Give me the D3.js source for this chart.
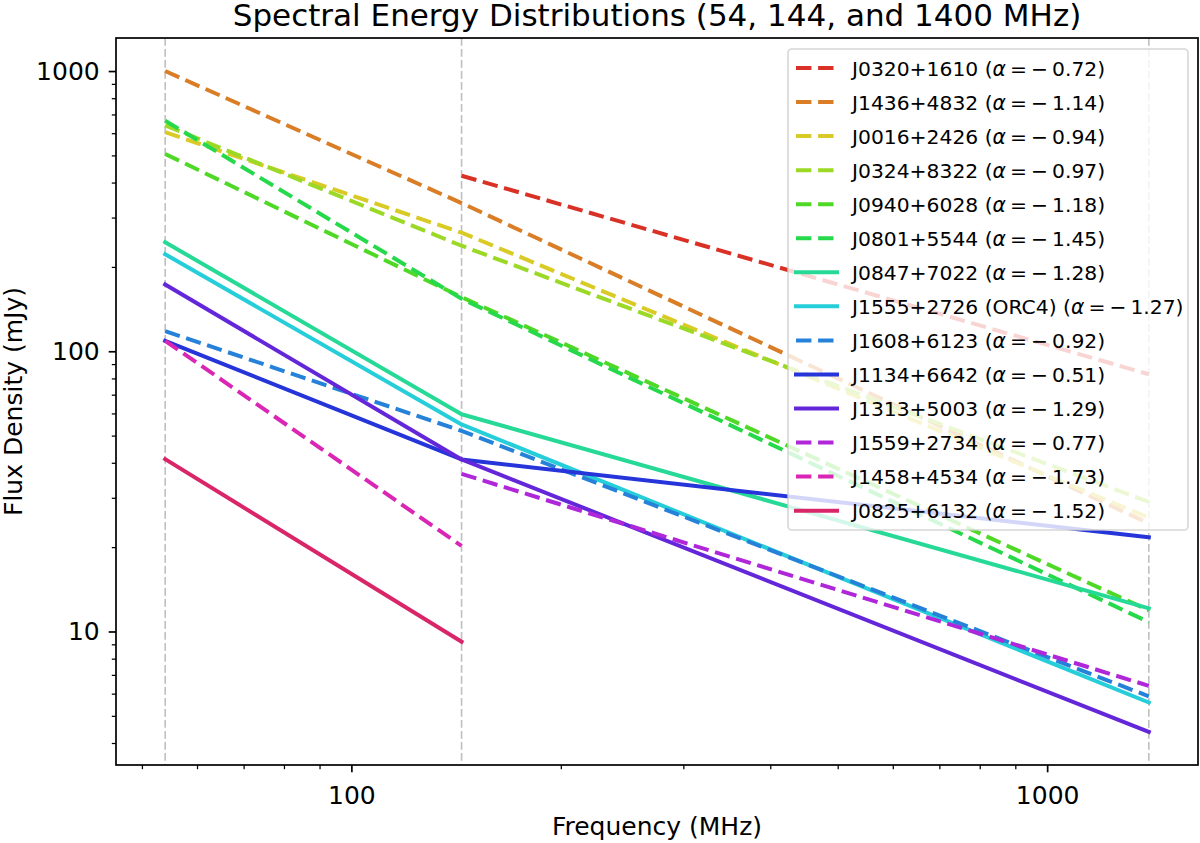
<!DOCTYPE html>
<html>
<head>
<meta charset="utf-8">
<script src="https://cdn.jsdelivr.net/npm/d3@7"></script>
<style>
body { margin: 0; background: #fff; }
svg { font-family: "DejaVu Sans", sans-serif; }
</style>
</head>
<body>
<div class="holderSed"></div>
<script>
var sources = ['J0320+1610', 'J1436+4832', 'J0016+2426', 'J0324+8322', 'J0940+6028', 'J0801+5544',
  'J0847+7022', 'J1555+2726 (ORC4)', 'J1608+6123', 'J1134+6642', 'J1313+5003', 'J1559+2734',
  'J1458+4534', 'J0825+6132']
var alphas = [-0.72, -1.14, -0.94, -0.97, -1.18, -1.45, -1.28, -1.27, -0.92, -0.51, -1.29, -0.77, -1.73, -1.52]

var freqs = [54, 144, 1400]
// flux density (mJy) per source, null = not detected at that band
var flux54 = [null, 1000, 605, 640, 506, 665, 245, 222, 118, 109, 173, null, 109, 41.2]
var flux144 = [423, 338, 265, 238, 156, 154, 59.6, 54.8, 52, 41.1, 41.1, 36.5, 20.2, 9.2]
var flux1400 = [82.8, 24.3, 25.5, 29, 11.9, 10.8, 12.1, 5.58, 5.87, 21.7, 4.38, 6.4, null, null]

var xMajor = [100, 1000]
var xMinor = [50, 60, 70, 80, 90, 200, 300, 400, 500, 600, 700, 800, 900]
var yMajor = [10, 100, 1000]
var yMinor = [4, 5, 6, 7, 8, 9, 20, 30, 40, 50, 60, 70, 80, 90, 200, 300, 400, 500, 600, 700, 800, 900]

var dashed = [true, true, true, true, true, true, false, false, true, false, false, true, true, false]
var colors = d3.range(sources.length).map(function(i) {
  return d3.hsl(3.6 + i * 360 / sources.length, 0.7, 0.5).formatHex()
})

var width = 1200,
    height = 843,
    plotLeft = 116,
    plotRight = 1198,
    plotTop = 38,
    plotBottom = 765

var bands = [flux54, flux144, flux1400]
var series = sources.map(function(name, i) {
  return freqs.map(function(f, j) {
    return { f: f, v: bands[j][i] }
  }).filter(function(d) { return d.v != null })
})

function logPad(ext) {
  var a = Math.log10(ext[0]), b = Math.log10(ext[1]), p = (b - a) * 0.05
  return [Math.pow(10, a - p), Math.pow(10, b + p)]
}

var allValues = d3.merge(bands).filter(function(v) { return v != null })

var xScale = d3.scaleLog()
  .domain(logPad(d3.extent(freqs)))
  .range([plotLeft, plotRight])

var yScale = d3.scaleLog()
  .domain(logPad(d3.extent(allValues)))
  .range([plotBottom, plotTop])

var chart = d3.select('.holderSed')
  .append('svg')
  .attr('width', width)
  .attr('height', height)

// band markers
chart.selectAll('.band')
  .data(freqs)
  .enter()
  .append('line')
  .attr('class', 'band')
  .attr('x1', function(d) { return xScale(d) })
  .attr('x2', function(d) { return xScale(d) })
  .attr('y1', plotTop)
  .attr('y2', plotBottom)
  .attr('stroke', '#808080')
  .attr('stroke-opacity', 0.5)
  .attr('stroke-width', 1.6)
  .attr('stroke-dasharray', '7.7,3.3')

var line = d3.line()
  .x(function(d) { return xScale(d.f) })
  .y(function(d) { return yScale(d.v) })

chart.selectAll('.sed')
  .data(series)
  .enter()
  .append('path')
  .attr('class', 'sed')
  .attr('d', line)
  .attr('fill', 'none')
  .attr('stroke', function(d, i) { return colors[i] })
  .attr('stroke-width', 4)
  .attr('stroke-linejoin', 'round')
  .attr('stroke-linecap', function(d, i) { return dashed[i] ? 'butt' : 'square' })
  .attr('stroke-dasharray', function(d, i) { return dashed[i] ? '15.4,6.7' : null })

// axes
function styleAxis(g, w) {
  g.select('.domain').remove()
  g.selectAll('line').attr('stroke', '#000').attr('stroke-width', w)
  g.selectAll('text').attr('fill', '#000').style('font-size', '25px').style('font-family', '"DejaVu Sans", sans-serif')
}

chart.append('g')
  .attr('transform', 'translate(0,' + plotBottom + ')')
  .call(d3.axisBottom(xScale).tickValues(xMinor).tickSize(4.2).tickFormat(''))
  .call(styleAxis, 1.25)

chart.append('g')
  .attr('transform', 'translate(0,' + plotBottom + ')')
  .call(d3.axisBottom(xScale).tickValues(xMajor).tickSize(7.3).tickPadding(14).tickFormat(d3.format('d')))
  .call(styleAxis, 1.7)

chart.append('g')
  .attr('transform', 'translate(' + plotLeft + ',0)')
  .call(d3.axisLeft(yScale).tickValues(yMinor).tickSize(4.2).tickFormat(''))
  .call(styleAxis, 1.25)

chart.append('g')
  .attr('transform', 'translate(' + plotLeft + ',0)')
  .call(d3.axisLeft(yScale).tickValues(yMajor).tickSize(7.3).tickPadding(9).tickFormat(d3.format('d')))
  .call(styleAxis, 1.7)

chart.append('rect')
  .attr('x', plotLeft)
  .attr('y', plotTop)
  .attr('width', plotRight - plotLeft)
  .attr('height', plotBottom - plotTop)
  .attr('fill', 'none')
  .attr('stroke', '#000')
  .attr('stroke-width', 1.7)

chart.append('text')
  .attr('x', (plotLeft + plotRight) / 2)
  .attr('y', 26)
  .attr('text-anchor', 'middle')
  .style('font-size', '31px')
  .text('Spectral Energy Distributions (54, 144, and 1400 MHz)')

chart.append('text')
  .attr('x', (plotLeft + plotRight) / 2)
  .attr('y', 835)
  .attr('text-anchor', 'middle')
  .style('font-size', '25px')
  .text('Frequency (MHz)')

chart.append('text')
  .attr('transform', 'translate(21.5,' + (plotTop + plotBottom) / 2 + ') rotate(-90)')
  .attr('text-anchor', 'middle')
  .style('font-size', '25px')
  .text('Flux Density (mJy)')

// legend
var legend = chart.append('g')
  .attr('id', 'legend')

legend.append('rect')
  .attr('x', 788)
  .attr('y', 49)
  .attr('width', 400)
  .attr('height', 481)
  .attr('rx', 4)
  .attr('fill', '#fff')
  .attr('fill-opacity', 0.8)
  .attr('stroke', '#cccccc')
  .attr('stroke-opacity', 0.8)
  .attr('stroke-width', 1.6)

var row = legend.selectAll('.row')
  .data(sources)
  .enter()
  .append('g')
  .attr('class', 'row')
  .attr('transform', function(d, i) { return 'translate(0,' + (68 + i * 34.05) + ')' })

row.append('line')
  .attr('x1', 796)
  .attr('x2', 837)
  .attr('stroke', function(d, i) { return colors[i] })
  .attr('stroke-width', 4)
  .attr('stroke-linecap', function(d, i) { return dashed[i] ? 'butt' : 'square' })
  .attr('stroke-dasharray', function(d, i) { return dashed[i] ? '15.4,6.7' : null })

var label = row.append('text')
  .attr('x', 852)
  .attr('y', 7.6)
  .style('font-size', '20.3px')

label.append('tspan')
  .text(function(d) { return d + ' (' })
label.append('tspan')
  .style('font-style', 'italic')
  .text('\u03b1')
label.append('tspan')
  .text(function(d, i) { return '\u2009=\u2009\u2212\u2009' + Math.abs(alphas[i]).toFixed(2) + ')' })
</script>
</body>
</html>
